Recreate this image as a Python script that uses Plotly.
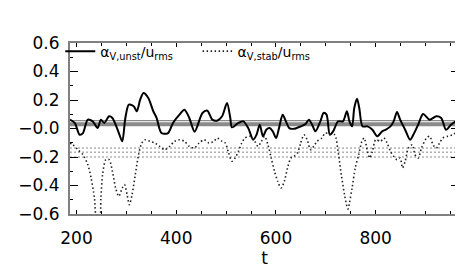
import plotly.graph_objects as go

# solid curve: alpha_V,unst / u_rms
t_unst = [187, 196.5, 206.4, 213, 222.7, 232.6, 242.4, 249, 255.6, 265.5, 272, 278.5, 285, 291.7,
          298, 305, 314.7, 321, 327.7, 334.4, 344, 354, 360.6, 370.4, 383.6, 393.5, 406.5, 416.4,
          426.2, 437, 452.6, 462.4, 472.3, 482, 492, 501.8, 508.4, 511.7, 524.7, 534.6, 544.4,
          554.3, 561, 567.5, 574, 580.6, 587, 593.6, 600.3, 606.9, 613.4, 620, 626.6, 636.4, 649.6,
          659.4, 666, 672.5, 679.2, 689, 695.5, 701.4, 708, 714.6, 724.5, 734.3, 742.2, 747.3,
          752.6, 757, 762.5, 767, 773.7, 783.5, 793.4, 803.2, 813, 819.6, 829.5, 836, 842.7, 849,
          859, 868.9, 875.4, 885.2, 895, 908, 921.5, 931.3, 941, 951, 960.9, 967]
v_unst = [0.062, 0.039, -0.044, -0.032, 0.062, 0.050, 0.003, 0.062, 0.039, 0.086, 0.074, 0.027,
          -0.032, -0.090, 0.074, 0.167, 0.156, 0.121, 0.202, 0.249, 0.214, 0.121, 0.074, -0.032,
          -0.032, 0.039, 0.097, 0.132, 0.074, -0.022, 0.109, 0.125, 0.062, 0.055, 0.086, 0.179,
          0.074, 0.008, 0.039, 0.050, 0.003, -0.079, -0.044, 0.027, -0.055, -0.009, 0.003, -0.020,
          -0.067, 0.015, 0.097, 0.050, 0.003, -0.002, 0.015, 0.032, 0.062, 0.027, -0.020, 0.050,
          0.109, 0.097, -0.044, -0.020, 0.050, 0.050, 0.121, 0.050, 0.015, 0.144, 0.209, 0.144,
          0.015, 0.015, -0.009, -0.055, -0.020, -0.009, 0.015, 0.050, 0.116, 0.062, -0.009, -0.079,
          -0.044, 0.027, 0.102, 0.062, 0.086, 0.074, -0.009, 0.027, 0.050, 0.050]

# dotted curve: alpha_V,stab / u_rms
t_stab = [186.6, 193, 203, 213, 222.7, 229.3, 236, 241, 245.8, 249, 252.3, 258.9, 265.5, 272,
          278.5, 285, 291.7, 296.2, 301.5, 306, 311.4, 317.9, 324.5, 331, 337.6, 347.4, 357.3,
          367, 377, 386.8, 396.7, 406.5, 416.4, 426.2, 436, 446, 455.8, 465.6, 475.5, 482, 492,
          498.5, 505, 511.7, 518, 524.7, 531.4, 538, 547.8, 557.6, 564, 570.8, 577.3, 583.8, 590.5,
          597, 603.5, 610.2, 616.7, 623.2, 629.9, 636.4, 643, 649.6, 656, 662.6, 669.3, 675.8,
          682.3, 692, 698.8, 708, 717.8, 724.5, 731, 737.5, 742.2, 744.5, 747.3, 752.6, 759, 765.8,
          772.3, 776.8, 783.5, 788, 793.4, 800, 809.8, 816.3, 823, 829.5, 836, 842.7, 849, 853.7,
          859, 865.5, 873.4, 878.7, 885.2, 891.9, 901.8, 908.3, 914.8, 921.5, 928, 934.5, 944.3,
          954, 964]
v_stab = [-0.102, -0.114, -0.149, -0.184, -0.254, -0.347, -0.488, -0.66, -0.66, -0.488, -0.324,
          -0.219, -0.219, -0.300, -0.418, -0.476, -0.418, -0.394, -0.465, -0.535, -0.465, -0.324,
          -0.184, -0.102, -0.079, -0.090, -0.102, -0.125, -0.149, -0.125, -0.090, -0.079, -0.090,
          -0.125, -0.137, -0.102, -0.079, -0.102, -0.090, -0.067, -0.090, -0.102, -0.172, -0.230,
          -0.207, -0.160, -0.102, -0.067, -0.055, -0.090, -0.125, -0.090, -0.055, -0.114, -0.207,
          -0.300, -0.371, -0.418, -0.371, -0.277, -0.207, -0.195, -0.172, -0.102, -0.044, -0.079,
          -0.149, -0.125, -0.090, -0.067, -0.032, -0.040, -0.044, -0.160, -0.324, -0.465, -0.546,
          -0.565, -0.523, -0.418, -0.277, -0.184, -0.090, -0.067, -0.160, -0.207, -0.160, -0.079,
          -0.090, -0.067, -0.102, -0.160, -0.195, -0.219, -0.207, -0.277, -0.230, -0.137, -0.114,
          -0.184, -0.207, -0.137, -0.067, -0.055, -0.114, -0.137, -0.102, -0.067, -0.055, -0.044,
          -0.020]

# reference levels
solid_levels = [0.055, 0.029]
dotted_levels = [-0.137, -0.166, -0.200]

x_range = [187, 967]
y_range = [-0.6, 0.6]
y_tickvals = [-0.6, -0.4, -0.2, 0.0, 0.2, 0.4, 0.6]
y_ticktext = ["\u22120.6", "\u22120.4", "\u22120.2", "\u22120.0", "0.2", "0.4", "0.6"]
x_tickvals = [200, 400, 600, 800]

fig = go.Figure()

for lv, w in zip(solid_levels, [1.2, 4]):
    fig.add_trace(go.Scatter(x=x_range, y=[lv, lv], mode="lines", showlegend=False,
                             line=dict(color="#8a8a8a", width=w), hoverinfo="skip"))
for lv in dotted_levels:
    fig.add_trace(go.Scatter(x=x_range, y=[lv, lv], mode="lines", showlegend=False,
                             line=dict(color="#8a8a8a", width=1, dash="2px,2px"), hoverinfo="skip"))

fig.add_trace(go.Scatter(x=t_unst, y=v_unst, mode="lines", name="α<sub>V,unst</sub>/u<sub>rms</sub>",
                         line=dict(color="black", width=2, shape="spline", smoothing=0.8),
                         legend="legend"))
fig.add_trace(go.Scatter(x=t_stab, y=v_stab, mode="lines", name="α<sub>V,stab</sub>/u<sub>rms</sub>",
                         line=dict(color="#222222", width=1.6, dash="1.5px,2.5px", shape="spline",
                                   smoothing=0.8),
                         legend="legend2"))

legend_common = dict(yanchor="middle", y=0.95, xanchor="left", bgcolor="rgba(0,0,0,0)",
                     font=dict(family="DejaVu Sans", size=14, color="black"),
                     itemwidth=30, tracegroupgap=0)

fig.update_layout(
    width=463, height=278,
    margin=dict(l=57, r=10, t=35, b=72),
    paper_bgcolor="white", plot_bgcolor="white",
    font=dict(family="DejaVu Sans", size=17, color="black"),
    legend=dict(x=-0.025, **legend_common),
    legend2=dict(x=0.328, **legend_common),
    xaxis=dict(range=x_range, tickvals=x_tickvals, ticks="inside", ticklen=4, tickwidth=1,
               tickcolor="black", showline=True, linecolor="#808080", linewidth=2, mirror="allticks",
               showgrid=False, zeroline=False, ticklabelstandoff=8,
               minor=dict(dtick=50, ticks="inside", ticklen=3, tickcolor="black", showgrid=False),
               title=dict(text="t", standoff=4, font=dict(size=17))),
    yaxis=dict(range=y_range, tickvals=y_tickvals, ticktext=y_ticktext, ticks="inside", ticklen=8,
               tickwidth=1, tickcolor="black", showline=True, linecolor="#808080", linewidth=2,
               mirror="allticks", showgrid=False, zeroline=False, ticklabelstandoff=5,
               minor=dict(dtick=0.1, ticks="inside", ticklen=3, tickcolor="black", showgrid=False)),
)

fig.write_html("out.html")
